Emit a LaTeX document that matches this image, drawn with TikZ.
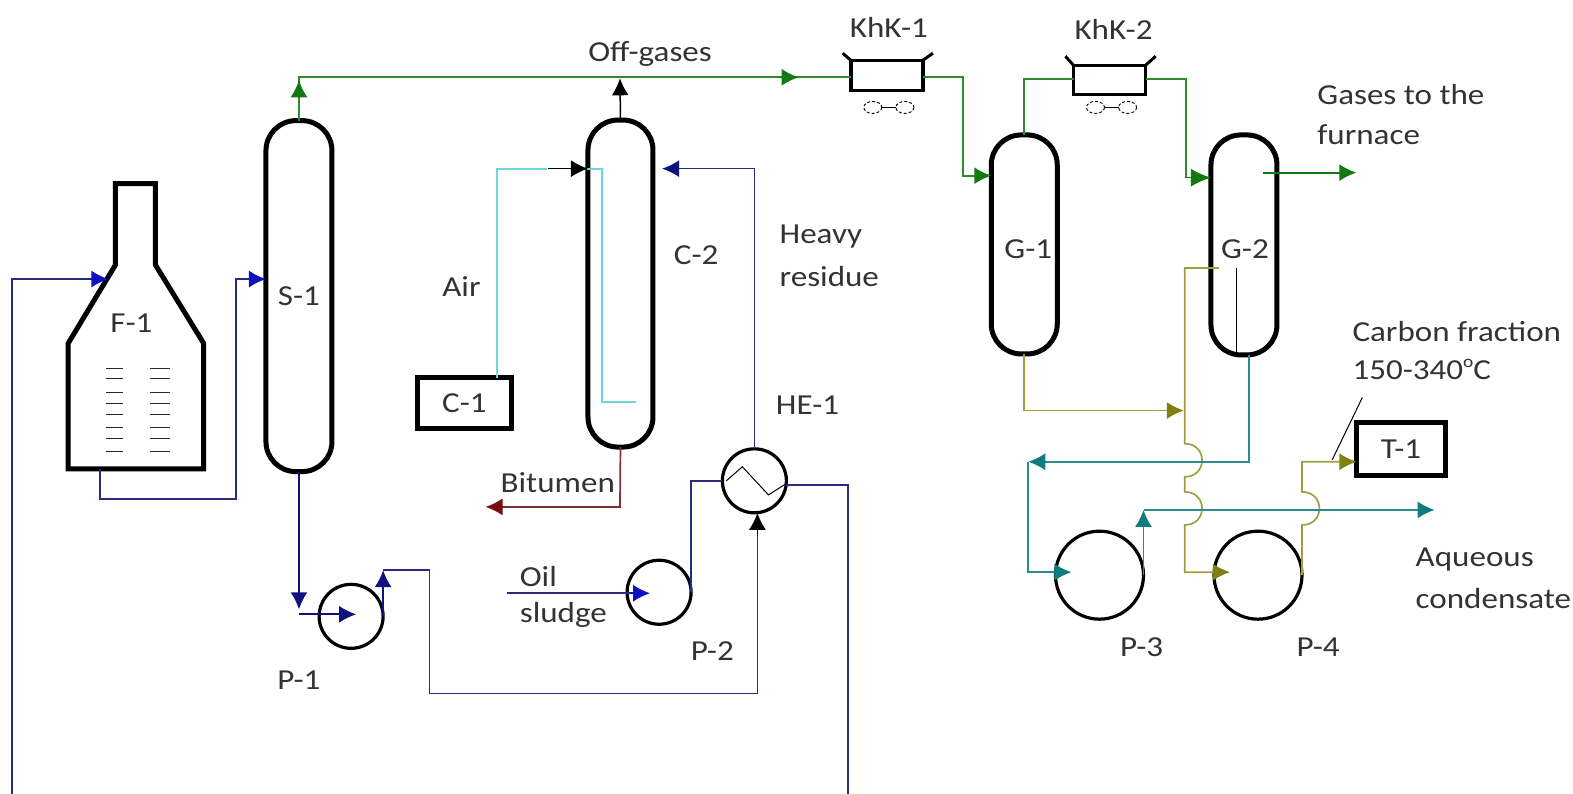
\documentclass[tikz,border=0pt]{standalone}
\usepackage{fontspec}
\setmainfont[FakeStretch=1.14]{Carlito}
\usetikzlibrary{arrows.meta}
\definecolor{navyl}{HTML}{2A2A80}
\definecolor{bluetip}{HTML}{1010C0}
\definecolor{navytip}{HTML}{101080}
\definecolor{greenl}{HTML}{2E8B2E}
\definecolor{greentip}{HTML}{107A10}
\definecolor{olivel}{HTML}{A0A040}
\definecolor{olivetip}{HTML}{808010}
\definecolor{teall}{HTML}{2A8C92}
\definecolor{tealtip}{HTML}{107C80}
\definecolor{cyanl}{HTML}{6FD8DC}
\definecolor{redl}{HTML}{803030}
\definecolor{redtip}{HTML}{780E0E}
\definecolor{textc}{HTML}{333333}
\tikzset{
 x=1.0032pt,y=-1.0038pt,
 lbl/.style={text=textc,font=\fontsize{29}{31}\selectfont,inner sep=0pt},
 lbll/.style={lbl,anchor=west},
 vessel/.style={draw=black,line width=5pt,rounded corners=30pt,inner sep=0pt,outer sep=0pt,fill=none,text=textc,font=\fontsize{29}{31}\selectfont},
 boxn/.style={draw=black,line width=5pt,inner sep=0pt,outer sep=0pt,text=textc,font=\fontsize{29}{31}\selectfont},
 cooler/.style={draw=black,line width=3.5pt,inner sep=0pt,outer sep=0pt},
 pumpn/.style={draw=black,circle,line width=3.2pt,inner sep=0pt,outer sep=0pt},
 pipe/.style={line width=1.7pt,line join=miter},
 tip/.style={-{Latex[length=17pt,width=17pt]}},
}
\newcommand{\fanicon}[2]{%
 \draw[black,line width=.9pt,densely dashed] (#1-16,#2) ellipse[x radius=9,y radius=6];
 \draw[black,line width=.9pt,densely dashed] (#1+16,#2) ellipse[x radius=9,y radius=6];
 \draw[black,line width=1.1pt] (#1-7,#2) -- (#1+7,#2);
}
\begin{document}
\begin{tikzpicture}
\useasboundingbox (0,0) rectangle (1568,791);
% ---------- free ends
\coordinate (retEnd) at (845,791);
\coordinate (retStart) at (12,791);
\coordinate (oilIn) at (505,591);
\coordinate (bitEnd) at (484,505);
\coordinate (furnEnd) at (1352,172);
\coordinate (condEnd) at (1430,508);
\coordinate (offJoin) at (618,78);
\coordinate (airEnd) at (634,400);
\coordinate (leadTop) at (1358,396);
\coordinate (leadBot) at (1328,458);
% ---------- equipment
\draw[black,line width=5pt,line join=miter] (115,264) -- (115,183) -- (155,183) -- (155,264) -- (203,342) -- (203,467) -- (68,467) -- (68,342) -- cycle;
\node[inner sep=0pt,outer sep=0pt,minimum width=135pt,minimum height=285pt] (F1) at (135.5,325) {};
\node[lbl] (F1t) at (131,322) {F-1};
\foreach \yy in {367,377,391,402,413,426,437,450}{
 \draw[black!85,line width=1.5pt] (106,\yy) -- (123,\yy);
 \draw[black!85,line width=1.5pt] (150,\yy) -- (169,\yy);
}
\node[vessel,minimum width=66pt,minimum height=351pt] (S1) at (298,295) {S-1};
\node[vessel,minimum width=65pt,minimum height=327pt] (C2) at (618.5,282.5) {};
\node[boxn,minimum width=94pt,minimum height=51pt] (C1) at (463,401.5) {C-1};
\node[vessel,minimum width=66pt,minimum height=219pt] (G1) at (1021,243.5) {};
\node[vessel,minimum width=66pt,minimum height=220pt] (G2) at (1240,244) {};
\node[boxn,minimum width=89pt,minimum height=53pt] (T1) at (1396.5,447.5) {T-1};
\node[cooler,minimum width=72pt,minimum height=30pt] (K1) at (884,75) {};
\node[cooler,minimum width=72pt,minimum height=29pt] (K2) at (1106,79.5) {};
\draw[black,line width=3pt] (K1.north west) -- (840,53);
\draw[black,line width=3pt] (K1.north east) -- (930,53);
\draw[black,line width=3pt] (K2.north west) -- (1062,56);
\draw[black,line width=3pt] (K2.north east) -- (1152,56);
\fanicon{886}{107}
\fanicon{1108}{107}
\node[pumpn,minimum size=64pt] (P1) at (350,614) {};
\node[pumpn,minimum size=64pt] (P2) at (657,590) {};
\node[pumpn,minimum size=88pt] (P3) at (1096,573) {};
\node[pumpn,minimum size=88pt] (P4) at (1254,573) {};
\node[pumpn,minimum size=64pt] (HE) at (752,479) {};
\draw[black,line width=1pt] (724,479) -- (740,465) -- (766,493) -- (785,481);
% ---------- connectors: navy
\draw[pipe,navyl] (F1.south -| 100,0) -- (100,497) -- (235,497) -- (235,278) -- (250,278);
\draw[tip,bluetip,line width=1.5pt] (248,278) -- (S1.west |- 0,278);
\draw[pipe,navyl] (retEnd) -- (845,483) -- (HE.east |- 0,483);
\draw[pipe,navyl] (retStart) -- (12,278) -- (92,278);
\draw[tip,bluetip,line width=1.5pt] (90,278) -- (108,278);
\draw[pipe,navytip,tip] (S1.south) -- (298,607);
\draw[pipe,navytip,tip] (298,612) -- (355,612);
\draw[pipe,navytip,tip] (P1.east) -- (P1.east |- 0,568);
\draw[pipe,navyl] (P1.east |- 0,568) -- (428,568) -- (428,691) -- (755,691) -- (755,530);
\draw[tip,black,line width=1.5pt] (755,532) -- (HE.south -| 755,0);
\draw[pipe,navyl] (oilIn) -- (630,591);
\draw[tip,bluetip,line width=1.5pt] (628,591) -- (648,591);
\draw[pipe,navyl] (P2.east) -- (P2.east |- HE.west) -- (HE.west);
\draw[pipe,navyl] (HE.north) -- (752,168) -- (674,168);
\draw[tip,navytip,line width=1.5pt] (676,168) -- (660,168);
% bitumen
\draw[pipe,redl] (C2.south) -- (618,505) -- (498,505);
\draw[tip,redtip,line width=1.5pt] (500,505) -- (bitEnd);
% air
\draw[cyanl,line width=2pt] (C1.north -| 495,0) -- (495,168) -- (545,168);
\draw[cyanl,line width=2pt] (585,168) -- (600,168) -- (600,400) -- (airEnd);
\draw[tip,black,line width=1.5pt] (546,168) -- (C2.west |- 0,168);
% green
\draw[pipe,greenl] (S1.north) -- (298,77) -- (K1.west |- 0,77);
\draw[tip,greentip,line width=1.5pt] (298,98) -- (298,80);
\draw[tip,greentip,line width=1.5pt] (778,77) -- (796,77);
\draw[tip,black,line width=1.5pt] (C2.north) -- (offJoin);
\draw[pipe,greenl] (K1.east |- 0,77) -- (960,77) -- (960,175) -- (975,175);
\draw[tip,greentip,line width=1.5pt] (972,175) -- (G1.west |- 0,175);
\draw[pipe,greenl] (G1.north) -- (G1.north |- 0,79) -- (K2.west |- 0,79);
\draw[pipe,greenl] (K2.east |- 0,79) -- (1182,79) -- (1182,177);
\draw[greentip,-{Latex[length=20pt,width=18pt]},line width=1.5pt] (1182,177) -- (G2.west |- 0,177);
\draw[pipe,greentip,tip] (1259,172) -- (furnEnd);
% olive
\draw[pipe,olivel] (G1.south) -- (G1.south |- 0,409) -- (1166,409);
\draw[tip,olivetip,line width=1.5pt] (1164,409) -- (1180,409);
\draw[pipe,olivel] (1215,267) -- (1181,267) -- (1181,442) .. controls (1204,442) and (1204,475) .. (1181,475) -- (1181,490) .. controls (1204,490) and (1204,523) .. (1181,523) -- (1181,570) -- (1212,570);
\draw[tip,olivetip,line width=1.5pt] (1210,570) -- (1226,570);
\draw[pipe,olivel] (P4.east) -- (P4.east |- 0,523) .. controls (1321,523) and (1321,490) .. (P4.east |- 0,490) -- (P4.east |- 0,460) -- (1338,460);
\draw[tip,olivetip,line width=1.5pt] (1336,460) -- (T1.west |- 0,460);
\draw[black,line width=1pt] (leadBot) -- (leadTop);
% teal
\draw[pipe,teall] (G2.south -| 1245,0) -- (1245,460) -- (1040,460);
\draw[tip,tealtip,line width=1.5pt] (1042,460) -- (1025,460);
\draw[pipe,teall] (1025,460) -- (1025,570) -- (1053,570);
\draw[tip,tealtip,line width=1.5pt] (1051,570) -- (1068,570);
\draw[pipe,teall] (P3.east) -- (P3.east |- 0,522);
\draw[tip,tealtip,line width=1.5pt] (P3.east |- 0,524) -- (P3.east |- 0,508);
\draw[pipe,teall] (P3.east |- 0,508) -- (1416,508);
\draw[tip,tealtip,line width=1.5pt] (1414,508) -- (condEnd);
% internal of G-2
\draw[black,line width=1pt] (1233,267) -- (1233,354);
% ---------- labels
\node[lbl] (L1) at (648,54) {Off-gases};
\node[lbl] (L2) at (886,27) {KhK-1};
\node[lbl] (L3) at (1110,29) {KhK-2};
\node[lbll] (L4) at (1313,94) {Gases to the};
\node[lbll] (L5) at (1313,134) {furnace};
\node[lbll] (L6) at (777,236) {Heavy};
\node[lbll] (L7) at (777,275) {residue};
\node[lbl] (L8) at (694,254) {C-2};
\node[lbl] (L9) at (460,285) {Air};
\node[lbl] (L10) at (805,404) {HE-1};
\node[lbl] (L11) at (1025,248) {G-1};
\node[lbl] (L12) at (1241,248) {G-2};
\node[lbll] (L13) at (1348,330) {Carbon fraction};
\node[lbll] (L14) at (1348,368) {150-340\raisebox{.4em}{\fontsize{17}{17}\selectfont o}C};
\node[lbll] (L15) at (1411,557) {Aqueous};
\node[lbll] (L16) at (1411,596) {condensate};
\node[lbl] (L17) at (1138,645) {P-3};
\node[lbl] (L18) at (1314,645) {P-4};
\node[lbl] (L19) at (710,649) {P-2};
\node[lbl] (L20) at (298,678) {P-1};
\node[lbl] (L21) at (556,481) {Bitumen};
\node[lbll] (L22) at (518,574) {Oil};
\node[lbll] (L23) at (518,613) {sludge};
\end{tikzpicture}
\end{document}
